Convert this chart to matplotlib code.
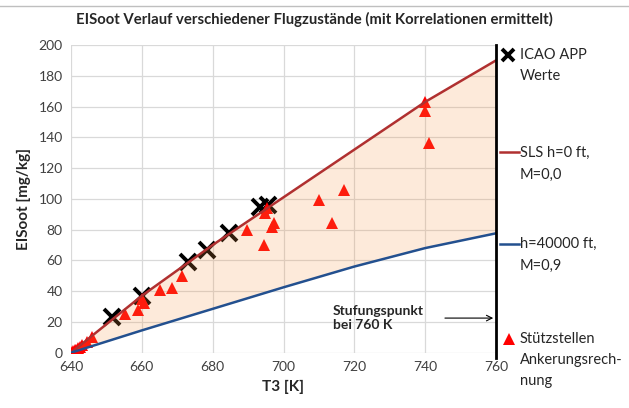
#!/usr/bin/env python3
"""EISoot curves for different flight conditions (recreated Excel chart)."""

import matplotlib
matplotlib.use("Agg")
import matplotlib.pyplot as plt
from matplotlib.lines import Line2D

plt.rcParams['font.family'] = ['Lato', 'DejaVu Sans']

# SLS / cruise correlation curves
t_curve = [640, 660, 680, 700, 720, 740, 760]
sls = [0, 37, 70, 101, 132, 163, 190]
cruise = [0, 14.5, 28.5, 42.5, 56, 68, 77.6]

# ICAO APP values
icao_t = [651.5, 660, 673, 678.5, 684.5, 693.5, 695.5]
icao_v = [23, 37, 59, 67, 78, 95, 96]

# support points of the anchoring calculation
anchor_t = [640, 640.5, 641, 641.5, 642, 642.5, 643, 644.5, 646, 655.3, 659,
            660.5, 660, 665.2, 668.5, 671.3, 689.7, 694.4, 694.9, 695.3,
            696.8, 697.3, 709.9, 713.7, 717, 740, 740, 741]
anchor_v = [0.5, 1, 2, 1.5, 3, 4, 5, 7, 10, 25, 28, 32, 35, 41, 42, 50, 80,
            70, 91, 94, 82, 84, 99, 84.5, 106, 163, 157, 136]

step_t = 760
x_ticks = [640, 660, 680, 700, 720, 740, 760]
y_ticks = list(range(0, 201, 20))

W, H = 629, 408
fig = plt.figure(figsize=(W / 100, H / 100), dpi=100)
ax = fig.add_axes([71 / W, 1 - 352.7 / H, (496 - 71) / W, (352.7 - 45) / H])


def px(x, y):
    return x / W, 1 - y / H


ax.set_xlim(640, 760)
ax.set_ylim(0, 200)
ax.set_xticks(x_ticks)
ax.set_yticks(y_ticks)
ax.tick_params(length=0, labelsize=10, labelcolor='#404040', pad=6)
ax.grid(True, color='#d9d9d9', linewidth=0.9)
ax.set_axisbelow(True)
for s in ax.spines.values():
    s.set_visible(False)

# markers first, fill drawn over them (as in the original)
ax.plot(icao_t, icao_v, linestyle='none', marker='x', color='black',
        markersize=11, markeredgewidth=2.8, zorder=2)
ax.plot(anchor_t, anchor_v, linestyle='none', marker='^', color='#ff0000',
        markersize=8, markeredgewidth=0, zorder=2)
ax.fill_between(t_curve, cruise, sls, color='#f79646', alpha=0.2,
                linewidth=0, zorder=3)
ax.plot(t_curve, sls, color='#b03030', linewidth=1.8, zorder=4)
ax.plot(t_curve, cruise, color='#23508f', linewidth=1.8, zorder=4)

# step point line
ax.plot([step_t, step_t], [-3.5, 200], color='black', linewidth=2,
        clip_on=False, zorder=5)
ax.annotate('', xy=(step_t, 22.5), xytext=(744.8, 22.5),
            arrowprops=dict(arrowstyle='->', color='black', lw=0.8), zorder=5)
ax.text(713.9, 31, 'Stufungspunkt\nbei 760 K', fontsize=10,
        fontweight='bold', color='#262626', va='top', ha='left',
        linespacing=1.2)

ax.set_xlabel('T3 [K]', fontsize=11, fontweight='bold', color='#262626',
              labelpad=5)
ax.set_ylabel('EISoot [mg/kg]', fontsize=11, fontweight='bold',
              color='#262626', labelpad=5)
fig.text(*px(314, 19), 'EISoot Verlauf verschiedener Flugzustände (mit Korrelationen ermittelt)',
         fontsize=10.7, fontweight='bold', color='#262626', ha='center', va='center')

# top border of the chart area
fig.add_artist(Line2D([0, 1], [1 - 6 / H, 1 - 6 / H], color='#bfbfbf',
                      linewidth=1, transform=fig.transFigure))

# manual legend on the right
tx = 520
fig.add_artist(Line2D(*zip(px(508, 55)), marker='x', color='black',
                      markersize=8, markeredgewidth=2.8, linestyle='none',
                      transform=fig.transFigure))
fig.add_artist(Line2D(*zip(px(500, 152), px(519, 152)), color='#b03030',
                      linewidth=1.8, transform=fig.transFigure))
fig.add_artist(Line2D(*zip(px(500, 244), px(519, 244)), color='#23508f',
                      linewidth=1.8, transform=fig.transFigure))
fig.add_artist(Line2D(*zip(px(509, 339)), marker='^', color='#ff0000',
                      markersize=8, markeredgewidth=0, linestyle='none',
                      transform=fig.transFigure))
legend_lines = [(55, 'ICAO APP'), (76, 'Werte'),
                (153, 'SLS h=0 ft,'), (175, 'M=0,0'),
                (244, 'h=40000 ft,'), (266, 'M=0,9'),
                (339, 'Stützstellen'), (360, 'Ankerungsrech-'), (381, 'nung')]
for y, s in legend_lines:
    fig.text(*px(tx, y), s, fontsize=10.5, color='#262626', ha='left',
             va='center')

fig.savefig('out.png', dpi=100)
